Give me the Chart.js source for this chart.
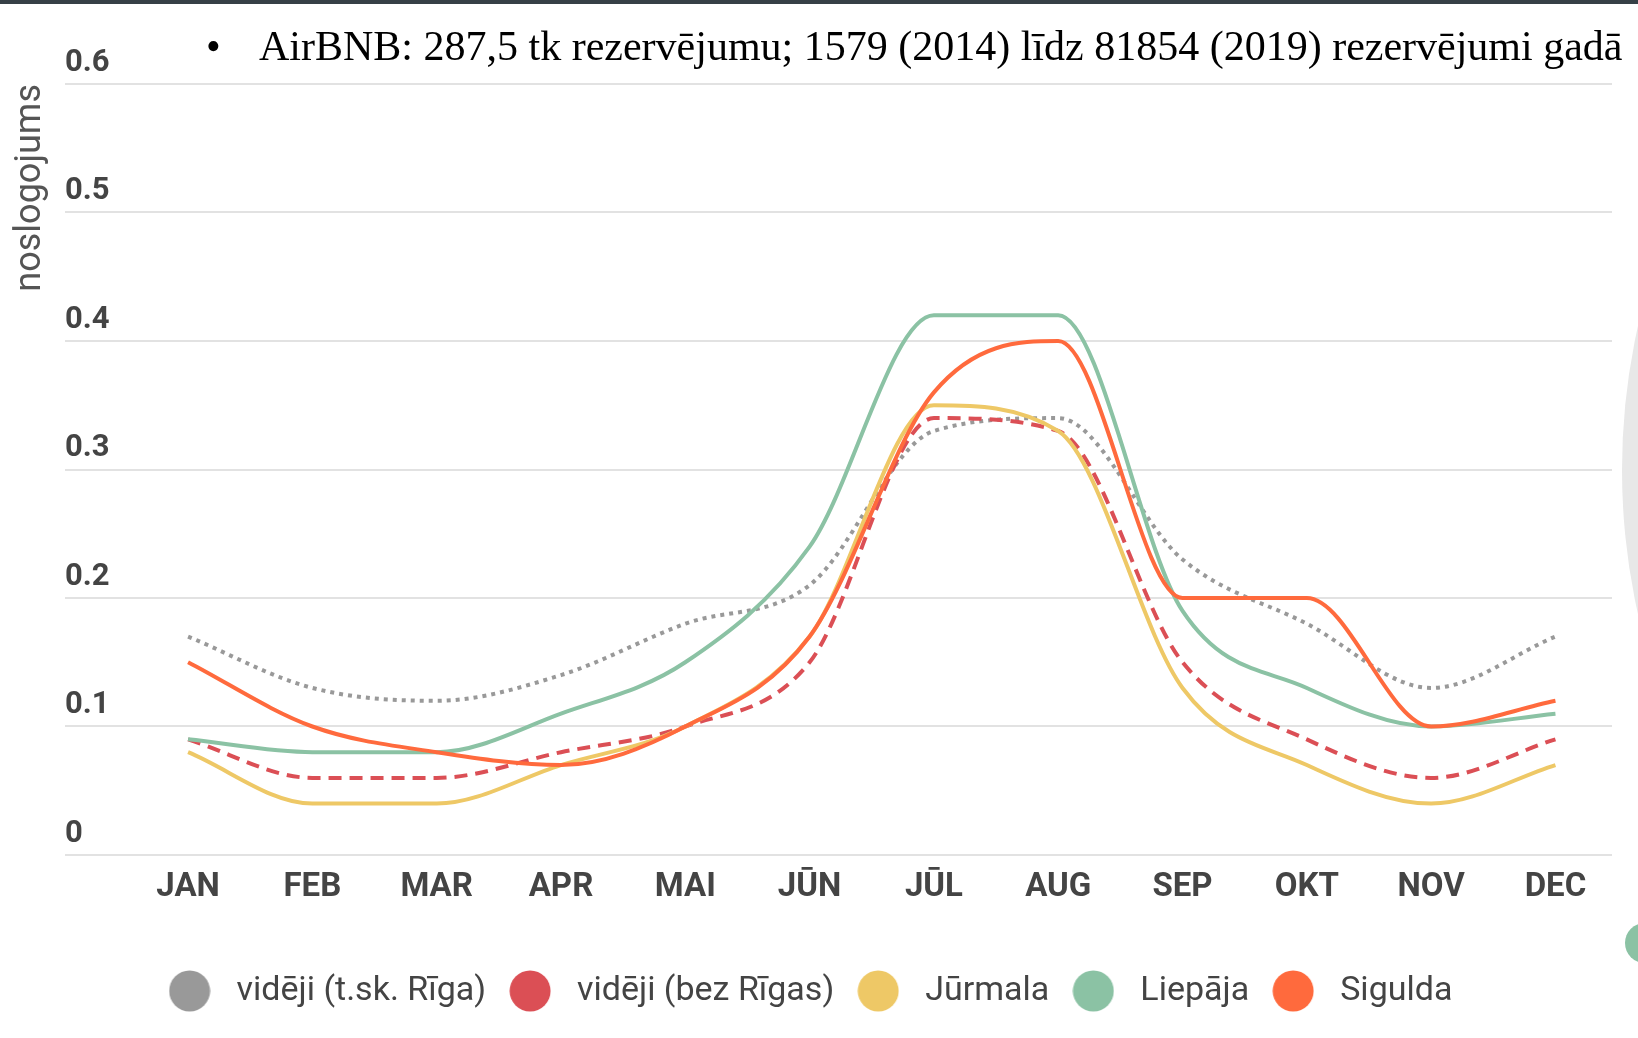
<!DOCTYPE html>
<html>
<head>
<meta charset="utf-8">
<script src="https://cdn.jsdelivr.net/npm/chart.js@4.4.1/dist/chart.umd.min.js"></script>
<style>
  html, body { margin: 0; padding: 0; background: #fff; overflow: hidden; }
  #wrap { position: relative; width: 1638px; height: 1038px; overflow: hidden; }
  #topbar { position: absolute; left: 0; top: 0; width: 1638px; height: 4px; background: #364046; }
  #bullet { position: absolute; left: 206px; top: 22px; font: 42px "Liberation Serif", serif; color: #000; }
  #note { position: absolute; left: 259px; top: 22px; font: 42px "Liberation Serif", serif; color: #000; white-space: nowrap; }
  #bigCircle { position: absolute; left: 1622px; top: -187px; width: 1314px; height: 1314px; border-radius: 50%; background: #e8e8e8; }
  #greenDot { position: absolute; left: 1625px; top: 923px; width: 40px; height: 40px; border-radius: 50%; background: #8bc2a4; }
  #chartBox { position: absolute; left: 0; top: 0; width: 1638px; height: 1038px; }
</style>
</head>
<body>
<div id="wrap">
  <div id="bigCircle"></div>
  <div id="greenDot"></div>
  <div id="topbar"></div>
  <div id="chartBox"><canvas id="chart"></canvas></div>
  <div id="bullet">•</div>
  <div id="note">AirBNB: 287,5 tk rezervējumu; 1579 (2014) līdz 81854 (2019) rezervējumi gadā</div>
</div>
<script>
const months = ['JAN', 'FEB', 'MAR', 'APR', 'MAI', 'JŪN', 'JŪL', 'AUG', 'SEP', 'OKT', 'NOV', 'DEC'];

const videjiRiga     = [0.17, 0.13, 0.12, 0.14, 0.18, 0.21, 0.33, 0.34, 0.23, 0.18, 0.13, 0.17];
const videjiBezRigas = [0.09, 0.06, 0.06, 0.08, 0.10, 0.15, 0.34, 0.33, 0.15, 0.09, 0.06, 0.09];
const jurmala        = [0.08, 0.04, 0.04, 0.07, 0.10, 0.17, 0.35, 0.33, 0.13, 0.07, 0.04, 0.07];
const liepaja        = [0.09, 0.08, 0.08, 0.11, 0.15, 0.24, 0.42, 0.42, 0.19, 0.13, 0.10, 0.11];
const sigulda        = [0.15, 0.10, 0.08, 0.07, 0.10, 0.17, 0.36, 0.40, 0.20, 0.20, 0.10, 0.12];

const yTicks = [0, 0.1, 0.2, 0.3, 0.4, 0.5, 0.6];

// legend dots are small canvases so the gap to the text can be set
function dot(color) {
    const c = document.createElement('canvas');
    c.width = 42;
    c.height = 42;
    const g = c.getContext('2d');
    g.fillStyle = color;
    g.beginPath();
    g.arc(21, 21, 20.5, 0, Math.PI * 2);
    g.fill();
    return c;
}

function series(label, values, color, dash, order) {
    return {
        label: label,
        data: values.map((v, i) => ({ x: i, y: v })),
        borderColor: color,
        backgroundColor: color,
        borderWidth: 4,
        borderDash: dash,
        cubicInterpolationMode: 'monotone',
        pointRadius: 0,
        pointHoverRadius: 0,
        pointStyle: dot(color),
        fill: false,
        order: order
    };
}

const ctx = document.getElementById('chart').getContext('2d');

const chart = new Chart(ctx, {
    type: 'line',
    data: {
        datasets: [
            series('vidēji (t.sk. Rīga)', videjiRiga, '#999999', [4, 5], 5),
            series('vidēji (bez Rīgas)', videjiBezRigas, '#db4f55', [13, 8], 4),
            series('Jūrmala', jurmala, '#eec866', [], 3),
            series('Liepāja', liepaja, '#8bc2a4', [], 2),
            series('Sigulda', sigulda, '#ff6a3d', [], 1)
        ]
    },
    options: {
        responsive: true,
        maintainAspectRatio: false,
        animation: false,
        layout: { padding: { top: 84, right: 26, bottom: 20, left: 0 } },
        plugins: {
            tooltip: { enabled: false },
            legend: {
                position: 'bottom',
                labels: {
                    usePointStyle: true,
                    pointStyleWidth: 60,
                    padding: 14,
                    color: '#444',
                    font: { family: 'Roboto', size: 34 },
                    sort: (a, b) => a.datasetIndex - b.datasetIndex
                }
            }
        },
        scales: {
            x: {
                type: 'linear',
                min: -0.99,
                max: 11.455,
                grid: { display: false },
                border: { display: false },
                afterBuildTicks: s => { s.ticks = months.map((m, i) => ({ value: i })); },
                afterFit: s => { s.height = 105; },
                ticks: {
                    autoSkip: false,
                    maxRotation: 0,
                    padding: 5,
                    color: '#444',
                    font: { family: 'Roboto', size: 33, weight: 'bold' },
                    callback: v => months[v]
                }
            },
            y: {
                min: 0,
                max: 0.6,
                afterBuildTicks: s => { s.ticks = yTicks.map(v => ({ value: v })); },
                afterFit: s => { s.width = 65; },
                grid: { color: '#e2e2e2', lineWidth: 2, drawTicks: false },
                border: { display: false },
                title: {
                    display: true,
                    text: 'noslogojums',
                    align: 'end',
                    color: '#555',
                    font: { family: 'Roboto', size: 36 },
                    padding: { top: 9, bottom: 4 }
                },
                ticks: {
                    mirror: true,
                    padding: 0,
                    labelOffset: -21,
                    color: '#444',
                    font: { family: 'Roboto', size: 31, weight: 'bold' },
                    callback: v => String(v)
                }
            }
        }
    }
});
</script>
</body>
</html>
